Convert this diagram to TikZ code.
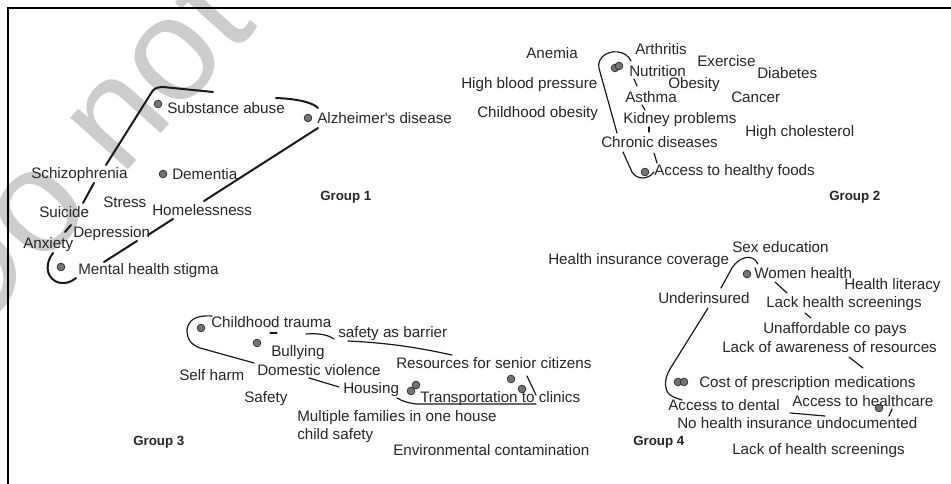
\documentclass[tikz,border=0pt]{standalone}
\usepackage{fontspec}
\setmainfont{Liberation Sans}
\begin{document}
\begin{tikzpicture}[x=0.75pt,y=0.75pt,yscale=-1,xscale=1,
    lbl/.style={anchor=west,inner sep=0pt,text height=8.2pt,text depth=0pt,font=\fontsize{11.4}{12}\selectfont,text=black!85},
    grp/.style={anchor=west,inner sep=0pt,text height=7.4pt,text depth=0pt,font=\fontsize{10}{12}\selectfont\bfseries,text=black!85},
    dotmark/.style={circle,draw=black!85,fill=black!55,line width=0.5pt,inner sep=0pt,minimum size=5.8pt},
    bound/.style={line width=0.9pt,line cap=round,black!90},
    boundthick/.style={line width=1.5pt,line cap=round,black!90}]
    \useasboundingbox (0,0) rectangle (951,484);
    \clip (0,0) rectangle (951,484);
    % watermark
    \node (wmark) [rotate=48,text=black!20,font=\fontsize{110}{110}\selectfont,inner sep=0pt] at (77,153) {Do not};
    % frame
    \draw [line width=1.1pt] (951,8) -- (8,8) -- (8,484);
    % group 1
    \draw [boundthick] (213,92) -- (163,87) .. controls (156,87) and (153,89) .. (150,95) -- (106,165);
    \draw [boundthick] (276,98) .. controls (300,99) and (313,103) .. (318,108);
    \draw [boundthick] (318,128) -- (204,201);
    \draw [boundthick] (173,219) -- (148,235);
    \draw [boundthick] (137,241) -- (104,262);
    \draw [boundthick] (53,253) .. controls (46,262) and (45,275) .. (55,281) .. controls (62,285) and (70,283) .. (76,278);
    \draw [boundthick] (71,225) -- (65,232);
    \draw [boundthick] (94,183) -- (83,203);
    \node (substance) [lbl] at (167,108) {Substance abuse};
    \node (alzheimer) [lbl] at (317,118) {Alzheimer\textquotesingle s disease};
    \node (schizo) [lbl] at (31,173) {Schizophrenia};
    \node (dementia) [lbl] at (172,174) {Dementia};
    \node (stress) [lbl] at (103,202) {Stress};
    \node (suicide) [lbl] at (39,212) {Suicide};
    \node (homeless) [lbl] at (152,210) {Homelessness};
    \node (depression) [lbl] at (73,232) {Depression};
    \node (anxiety) [lbl] at (23,243) {Anxiety};
    \node (stigma) [lbl] at (78,269) {Mental health stigma};
    \node (group1) [grp] at (320,196) {Group 1};
    \node (dsubstance) [dotmark] at (158,104) {};
    \node (dalzheimer) [dotmark] at (308,118) {};
    \node (ddementia) [dotmark] at (163,174) {};
    \node (dstigma) [dotmark] at (61,267) {};
    % group 2
    \draw [bound] (631,61) .. controls (626,50) and (610,49) .. (602,57) .. controls (598,62) and (598,66) .. (600,72) -- (617,133);
    \draw [bound] (623,152) -- (632,172) .. controls (637,180) and (648,180) .. (654,172);
    \draw [bound] (634,79) -- (637,86);
    \draw [bound] (642,105) -- (645,110);
    \draw [bound] (649,127) -- (649,132);
    \draw [bound] (654,153) -- (657,163);
    \node (anemia) [lbl] at (526,53) {Anemia};
    \node (arthritis) [lbl] at (635,49) {Arthritis};
    \node (exercise) [lbl] at (697,61) {Exercise};
    \node (diabetes) [lbl] at (757,73) {Diabetes};
    \node (nutrition) [lbl] at (629,71) {Nutrition};
    \node (obesity) [lbl] at (668,83) {Obesity};
    \node (pressure) [lbl] at (461,83) {High blood pressure};
    \node (asthma) [lbl] at (625,97) {Asthma};
    \node (cancer) [lbl] at (731,97) {Cancer};
    \node (childobesity) [lbl] at (477,112) {Childhood obesity};
    \node (kidney) [lbl] at (623,118) {Kidney problems};
    \node (cholesterol) [lbl] at (745,131) {High cholesterol};
    \node (chronic) [lbl] at (601,142) {Chronic diseases};
    \node (foods) [lbl] at (654,170) {Access to healthy foods};
    \node (group2) [grp] at (829,196) {Group 2};
    \node (dnutritionA) [dotmark] at (615,68) {};
    \node (dnutritionB) [dotmark] at (619,66) {};
    \node (dfoods) [dotmark] at (645,172) {};
    % group 3
    \draw [bound] (212,316) .. controls (196,315) and (188,320) .. (187,330) .. controls (187,340) and (192,345) .. (200,348) -- (254,363);
    \draw [bound] (270,333) -- (277,333);
    \draw [bound] (306,334) .. controls (320,333) and (328,335) .. (334,339);
    \draw [bound] (348,341) .. controls (390,343) and (420,348) .. (452,355);
    \draw [bound] (527,376) -- (536,395);
    \draw [bound] (536,404) -- (416,404) .. controls (408,403) and (402,401) .. (397,398);
    \draw [bound] (309,378) -- (339,387);
    \node (trauma) [lbl] at (211,322) {Childhood trauma};
    \node (barrier) [lbl] at (338,332) {safety as barrier};
    \node (bullying) [lbl] at (271,351) {Bullying};
    \node (seniors) [lbl] at (396,363) {Resources for senior citizens};
    \node (selfharm) [lbl] at (179,375) {Self harm};
    \node (violence) [lbl] at (257,370) {Domestic violence};
    \node (housing) [lbl] at (343,388) {Housing};
    \node (transport) [lbl] at (420,397) {Transportation to clinics};
    \node (safety) [lbl] at (244,397) {Safety};
    \node (families) [lbl] at (297,416) {Multiple families in one house};
    \node (childsafety) [lbl] at (297,434) {child safety};
    \node (group3) [grp] at (133,441) {Group 3};
    \node (environment) [lbl] at (393,450) {Environmental contamination};
    \node (dtrauma) [dotmark] at (201,328) {};
    \node (dbullying) [dotmark] at (257,343) {};
    \node (dhousingA) [dotmark] at (411,391) {};
    \node (dhousingB) [dotmark] at (416,385) {};
    \node (dtransportA) [dotmark] at (511,379) {};
    \node (dtransportB) [dotmark] at (522,389) {};
    % group 4
    \draw [bound] (721,288) -- (732,268) .. controls (738,258) and (752,252) .. (758,264);
    \draw [bound] (775,282) -- (787,293);
    \draw [bound] (805,313) -- (811,318);
    \draw [bound] (849,357) -- (863,368);
    \draw [bound] (892,409) -- (889,416);
    \draw [bound] (790,413) -- (825,416);
    \draw [bound] (708,308) -- (670,369) .. controls (664,379) and (664,390) .. (670,395) .. controls (675,398) and (679,399) .. (682,400);
    \node (sexed) [lbl] at (732,247) {Sex education};
    \node (coverage) [lbl] at (548,259) {Health insurance coverage};
    \node (women) [lbl] at (754,273) {Women health};
    \node (literacy) [lbl] at (844,284) {Health literacy};
    \node (underins) [lbl] at (658,298) {Underinsured};
    \node (lackscreen) [lbl] at (766,302) {Lack health screenings};
    \node (copays) [lbl] at (763,328) {Unaffordable co pays};
    \node (awareness) [lbl] at (722,347) {Lack of awareness of resources};
    \node (prescription) [lbl] at (699,382) {Cost of prescription medications};
    \node (healthcare) [lbl] at (792,401) {Access to healthcare};
    \node (dental) [lbl] at (668,405) {Access to dental};
    \node (undocumented) [lbl] at (677,423) {No health insurance undocumented};
    \node (group4) [grp] at (633,441) {Group 4};
    \node (screenings) [lbl] at (732,449) {Lack of health screenings};
    \node (dwomen) [dotmark] at (747,274) {};
    \node (dprescriptionA) [dotmark] at (678,382) {};
    \node (dprescriptionB) [dotmark] at (684,382) {};
    \node (dhealthcare) [dotmark] at (879,408) {};
\end{tikzpicture}
\end{document}
